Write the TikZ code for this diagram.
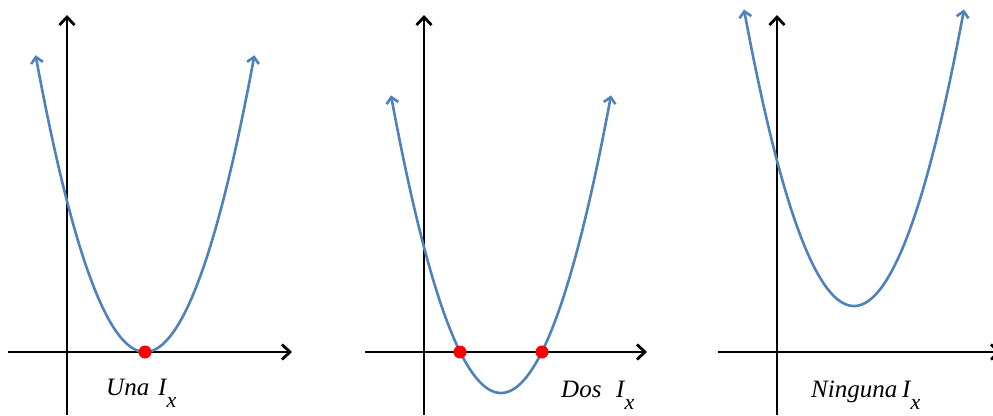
\documentclass[tikz,border=0pt]{standalone}
\usepackage{fontspec}
\setmainfont{Liberation Serif}
\usetikzlibrary{arrows.meta}
\definecolor{curveblue}{RGB}{79,129,189}
\definecolor{dotred}{RGB}{255,0,0}
\newcommand\ixsub[1]{\raisebox{-12pt}{\fontsize{22}{22}\selectfont #1}}
\begin{document}
\begin{tikzpicture}[x=1pt,y=-1pt,
  axisline/.style={line width=2.8pt,black,-{Straight Barb[length=8pt,width=15pt]}},
  curve/.style={line width=2.6pt,curveblue,{Straight Barb[length=6pt,width=12pt]}-{Straight Barb[length=6pt,width=12pt]}},
  rootdot/.style={fill=dotred,draw=none},
  lbl/.style={anchor=base west,inner sep=0pt,font=\fontsize{25}{25}\selectfont\itshape}]
\useasboundingbox (0,0) rectangle (993,415);
\clip (0,0) rectangle (993,415);
% panel 1
\coordinate (xa1s) at (8,352); \coordinate (xa1e) at (292,352);
\coordinate (ya1s) at (67,415); \coordinate (ya1e) at (67,15);
\draw[axisline] (xa1s) -- (xa1e);
\draw[axisline] (ya1s) -- (ya1e);
\draw[curve] plot[domain=35.6:254.4,samples=120,smooth] (\x,{352-0.0248*(\x-145)^2});
\fill[rootdot] (145,352) circle (6.5);
\node[lbl] (lab1) at (106,395) {\makebox[52pt][l]{Una}I\ixsub{x}};
% panel 2
\coordinate (xa2s) at (365,352); \coordinate (xa2e) at (647,352);
\coordinate (ya2s) at (424,415); \coordinate (ya2e) at (424,15);
\draw[axisline] (xa2s) -- (xa2e);
\draw[axisline] (ya2s) -- (ya2e);
\draw[curve] plot[domain=391:611,samples=120,smooth] (\x,{393-0.0246*(\x-501)^2});
\fill[rootdot] (460,352) circle (6.5);
\fill[rootdot] (542,352) circle (6.5);
\node[lbl] (lab2) at (561,397) {\makebox[55pt][l]{Dos}I\ixsub{x}};
% panel 3
\coordinate (xa3s) at (718,352); \coordinate (xa3e) at (1001,352);
\coordinate (ya3s) at (777,415); \coordinate (ya3e) at (777,15);
\draw[axisline] (xa3s) -- (xa3e);
\draw[axisline] (ya3s) -- (ya3e);
\draw[curve] plot[domain=744:964,samples=120,smooth] (\x,{306-0.0245*(\x-854)^2});
\node[lbl] (lab3) at (811,397) {\makebox[91pt][l]{Ninguna}I\ixsub{x}};
\end{tikzpicture}
\end{document}
